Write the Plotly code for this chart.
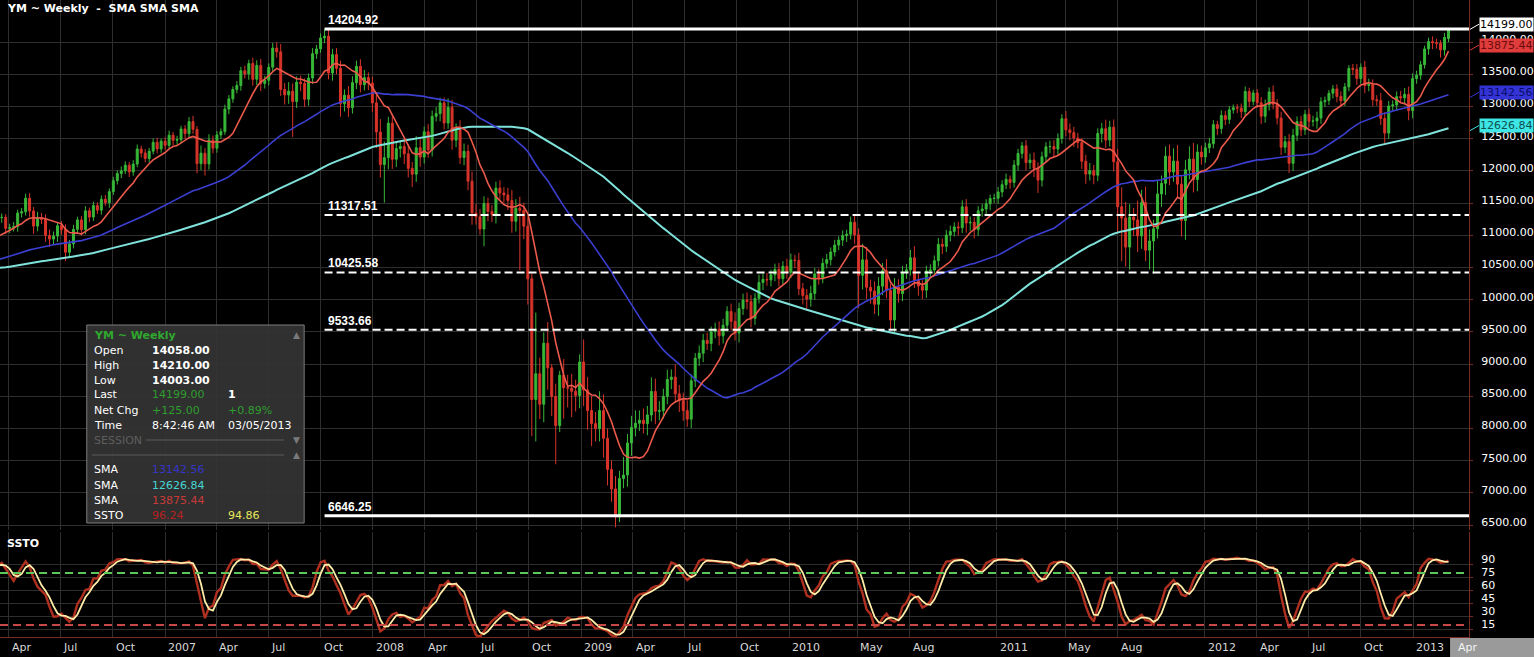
import numpy as np
import pandas as pd
import plotly.graph_objects as go

# ---------------- data (weekly, week-start Monday; last week = 2013-03-04) ----------------
CLOSE_2004 = [10117, 10019, 10140, 10188, 10242, 10410, 10416, 10371, 10282, 10213, 10140, 9962, 10140,
              9815, 9825, 10110, 10195, 10260, 10314, 10284, 10047, 10192, 10055, 9933, 9757, 10027,
              10315, 10540, 10456, 10522, 10592, 10544, 10705, 10827, 10783]
CLOSE_2005 = [10597, 10603, 10392, 10427, 10716, 10796, 10785, 10841, 10940, 10774, 10630, 10405,
              10461, 10462, 10087, 10157, 10192, 10345, 10281, 10471, 10542, 10460, 10512, 10623, 10297,
              10303, 10449, 10641, 10651, 10641, 10558, 10600, 10559, 10397, 10447, 10678, 10641, 10419, 10569,
              10292, 10287, 10215, 10402, 10530, 10686, 10766, 10931, 10877, 10778, 10875, 10883, 10718]
CLOSE_2006 = [10959, 10960, 10667, 10907, 10794, 10919, 11115, 11061, 11022, 11076, 11276, 11280, 11109,
              11120, 11137, 11347, 11367, 11577, 11380, 11144, 11278, 11247, 11000, 10942, 10989, 11150,
              11090, 10739, 10868, 11094, 11240, 11088, 11381, 11284, 11464, 11392, 11560, 11508, 11679,
              11850, 11960, 12002, 12091, 11986, 12108, 12342, 12280, 12194, 12308, 12445, 12343, 12463]
CLOSE_2007 = [12398, 12556, 12477, 12487, 12653, 12580, 12767, 12647, 12114, 12276, 12110, 12481, 12354,
              12560, 12612, 12961, 13120, 13265, 13327, 13556, 13507, 13668, 13424, 13639, 13360, 13409,
              13611, 13908, 13851, 13266, 13182, 13240, 13079, 13379, 13358, 13114, 13443, 13821, 13896,
              14066, 14093, 13523, 13807, 13595, 13043, 13177, 12981, 13372, 13625, 13340, 13450, 13366, 13057]
CLOSE_2008 = [12606, 12099, 12207, 12743, 12182, 12348, 12381, 12266, 12040, 11951, 12361, 12216, 12609,
              12325, 12849, 12891, 13058, 12745, 12986, 12479, 12638, 12209, 12307, 11842, 11346,
              11288, 11100, 11496, 11370, 11326, 11734, 11659, 11628, 11543, 11220, 11421, 11388, 11143, 10325,
              8451, 8852, 8378, 9325, 8943, 8497, 8046, 8829, 8635, 8629, 8579, 8515, 9034]
CLOSE_2009 = [8599, 8281, 8077, 8000, 8280, 7850, 7366, 7063, 6627, 7224, 7278, 7776, 8018,
              8083, 8131, 8076, 8212, 8575, 8268, 8277, 8500, 8763, 8799, 8539, 8438, 8280,
              8146, 8743, 9093, 9171, 9370, 9321, 9505, 9544, 9441, 9605, 9820, 9665, 9487,
              9864, 9995, 9972, 9712, 10023, 10270, 10318, 10309, 10388, 10471, 10328, 10520, 10428]
CLOSE_2010 = [10618, 10609, 10172, 10067, 10012, 10099, 10402, 10325, 10566, 10624, 10742, 10850, 10927,
              10997, 11018, 11204, 11009, 10380, 10620, 10193, 10137, 9931, 10211, 10450, 10144, 9686,
              10198, 10097, 10425, 10466, 10653, 10303, 10213, 10150, 10448, 10462, 10607, 10860, 10830,
              11006, 11062, 11132, 11118, 11444, 11192, 11203, 11092, 11382, 11410, 11491, 11573, 11577]
CLOSE_2011 = [11674, 11787, 11871, 11823, 12092, 12273, 12391, 12130, 12169, 12044, 11858, 12220, 12376,
              12380, 12341, 12505, 12811, 12638, 12596, 12512, 12441, 12151, 11952, 12004, 11934, 12582,
              12657, 12480, 12681, 12143, 11445, 11269, 10818, 11285, 11240, 10992, 11509, 10771, 10913,
              11103, 11644, 11809, 12231, 11983, 12153, 11796, 11231, 12019, 12184, 11867, 12294, 12218]
CLOSE_2012 = [12360, 12422, 12720, 12660, 12862, 12801, 12950, 12983, 12978, 12922, 13233, 13081, 13212,
              13060, 12850, 13029, 13228, 13038, 12821, 12369, 12455, 12119, 12554, 12767, 12640, 12880,
              12772, 12777, 12822, 13075, 13096, 13207, 13275, 13157, 13090, 13306, 13593, 13579, 13437,
              13610, 13328, 13343, 13107, 13093, 12815, 12588, 13010, 13026, 13155, 13135, 13190, 12938, 13435]
CLOSE_2013 = [13488, 13650, 13896, 14009, 13993, 13981, 13881, 14074, 14199]

# upper / lower wick lengths in tens of points, same order as closes
HI_2004 = [6, 5, 8, 4, 7, 5, 6, 4, 5, 8, 6, 4, 7, 9, 6, 5, 4, 6, 5, 7, 8, 5, 7, 6, 9, 6, 5, 8, 4, 6, 5, 6, 7, 4, 6]
LO_2004 = [7, 6, 5, 8, 4, 6, 5, 7, 6, 5, 9, 8, 5, 10, 7, 6, 5, 5, 6, 8, 7, 6, 8, 9, 7, 5, 4, 6, 7, 5, 6, 5, 4, 7, 5]
HI_2005 = [6, 7, 5, 8, 6, 5, 7, 4, 8, 6, 7, 9, 6, 7, 8, 9, 6, 5, 6, 7, 5, 6, 8, 5, 7, 5, 6, 4, 6, 5,
           6, 5, 7, 6, 5, 6, 7, 5, 6, 7, 8, 6, 5, 4, 5, 6, 5, 6, 5, 7, 4, 6]
LO_2005 = [8, 6, 9, 5, 5, 7, 6, 5, 6, 8, 9, 10, 9, 11, 12, 8, 7, 6, 5, 8, 6, 7, 6, 9, 5, 6, 5, 7, 5, 6,
           5, 7, 6, 8, 6, 5, 8, 7, 5, 9, 10, 11, 6, 5, 6, 4, 5, 5, 7, 6, 5, 6]
HI_2006 = [5, 6, 7, 5, 6, 5, 7, 6, 5, 6, 7, 6, 5, 6, 7, 5, 6, 7, 8, 6, 9, 7, 8, 9, 7, 6, 7, 8, 6, 7, 5,
           6, 7, 5, 6, 5, 6, 7, 5, 6, 5, 7, 6, 5, 6, 7, 5, 6, 5, 6, 7, 4]
LO_2006 = [6, 7, 9, 6, 7, 6, 5, 8, 6, 7, 5, 8, 9, 7, 6, 8, 7, 6, 9, 12, 8, 7, 10, 12, 8, 9, 8, 14, 9, 7, 6,
           9, 7, 8, 6, 6, 7, 5, 8, 5, 6, 7, 5, 8, 6, 5, 7, 6, 6, 5, 7, 6]
HI_2007 = [6, 7, 5, 6, 5, 6, 7, 9, 5, 12, 8, 9, 7, 6, 5, 7, 6, 5, 7, 6, 8, 6, 9, 8, 10, 7, 6, 8, 9, 12, 10,
           14, 12, 9, 10, 8, 7, 9, 6, 7, 11, 12, 9, 10, 12, 9, 14, 10, 9, 11, 12, 8, 10]
LO_2007 = [7, 6, 8, 7, 6, 8, 6, 7, 15, 10, 18, 9, 8, 7, 6, 5, 8, 6, 6, 8, 7, 9, 10, 9, 12, 8, 8, 7, 9, 10, 15,
           14, 55, 10, 12, 12, 10, 9, 8, 6, 8, 10, 12, 9, 20, 12, 14, 9, 10, 12, 9, 11, 14]
HI_2008 = [14, 20, 25, 10, 12, 11, 9, 12, 15, 10, 18, 14, 8, 12, 9, 10, 8, 8, 14, 12, 10, 15, 12, 10, 15,
           14, 12, 11, 9, 10, 10, 12, 9, 11, 16, 14, 18, 12, 14, 8, 95, 25, 17, 33, 6, 20, 7, 25, 20, 22, 18, 12]
LO_2008 = [25, 20, 59, 18, 15, 12, 14, 16, 14, 20, 12, 15, 10, 12, 10, 8, 12, 10, 9, 15, 11, 10, 12, 14, 18,
           12, 9, 27, 15, 12, 14, 10, 12, 15, 18, 16, 93, 20, 40, 57, 65, 23, 28, 34, 30, 60, 10, 48, 30, 40, 25, 20]
HI_2009 = [35, 20, 22, 18, 30, 25, 15, 14, 20, 12, 28, 14, 18, 20, 15, 18, 14, 22, 20, 15, 12, 15, 12, 20, 14, 12,
           16, 10, 8, 12, 10, 12, 8, 10, 12, 10, 8, 12, 14, 9, 10, 12, 10, 8, 12, 9, 10, 8, 9, 10, 8, 12]
LO_2009 = [25, 30, 35, 20, 20, 30, 25, 20, 16, 8, 15, 18, 20, 14, 12, 15, 18, 10, 20, 14, 12, 12, 15, 14, 18, 16,
           12, 14, 10, 12, 14, 10, 12, 10, 15, 12, 10, 14, 12, 15, 10, 12, 14, 10, 8, 12, 9, 10, 10, 12, 9, 10]
HI_2010 = [10, 8, 12, 9, 10, 12, 9, 8, 8, 9, 7, 8, 6, 8, 7, 9, 12, 10, 25, 20, 12, 15, 14, 12, 18, 10,
           14, 12, 10, 9, 12, 18, 10, 9, 8, 9, 8, 10, 9, 8, 9, 7, 8, 10, 12, 9, 8, 7, 8, 7, 6, 7]
LO_2010 = [9, 12, 10, 14, 18, 12, 10, 9, 7, 8, 9, 7, 8, 9, 10, 8, 14, 51, 22, 18, 20, 15, 18, 14, 12, 14,
           20, 14, 12, 10, 9, 12, 15, 14, 12, 10, 8, 9, 12, 9, 10, 8, 12, 8, 15, 12, 14, 10, 9, 8, 10, 7]
HI_2011 = [8, 7, 9, 6, 8, 7, 6, 9, 10, 12, 9, 8, 7, 9, 10, 8, 7, 12, 10, 9, 8, 7, 10, 12, 9, 8,
           9, 14, 10, 12, 20, 30, 25, 20, 14, 30, 20, 25, 18, 14, 20, 12, 15, 18, 20, 25, 12, 15, 20, 25, 12, 10]
LO_2011 = [9, 8, 7, 10, 8, 9, 8, 12, 10, 14, 20, 10, 8, 10, 12, 9, 8, 10, 12, 14, 9, 12, 15, 10, 14, 9,
           14, 12, 10, 15, 40, 67, 30, 35, 25, 25, 20, 17, 30, 51, 15, 20, 18, 20, 15, 20, 25, 30, 15, 20, 18, 12]
HI_2012 = [8, 9, 7, 6, 8, 7, 6, 5, 6, 7, 8, 6, 5, 6, 9, 8, 7, 10, 8, 10, 9, 12, 10, 8, 9, 7,
           9, 8, 10, 7, 6, 5, 6, 7, 8, 6, 5, 7, 8, 6, 10, 9, 8, 7, 12, 10, 8, 7, 8, 9, 10, 12, 8]
LO_2012 = [9, 8, 7, 10, 8, 9, 7, 6, 8, 10, 7, 9, 6, 8, 12, 10, 9, 8, 10, 12, 9, 15, 12, 9, 10, 8,
           10, 8, 12, 9, 8, 7, 8, 9, 10, 8, 7, 9, 10, 8, 12, 9, 10, 8, 10, 18, 9, 8, 9, 8, 10, 15, 12]
HI_2013 = [7, 6, 5, 6, 8, 6, 5, 7, 1]
LO_2013 = [8, 7, 6, 9, 10, 8, 12, 9, 7]

# last bar as shown in the info box
LAST_BAR = {"open": 14058.00, "high": 14210.00, "low": 14003.00, "close": 14199.00}
INFO_SMA = [13142.56, 12626.84, 13875.44]      # blue, cyan, red
INFO_SSTO = [96.24, 94.86]
FIB_LEVELS = [14204.92, 11317.51, 10425.58, 9533.66, 6646.25]
FIB_START = "2007-10-08"
PRICE_TICKS = list(range(6500, 14001, 500))
SSTO_TICKS = [15, 30, 45, 60, 75, 90]
SSTO_BANDS = [80, 20]
X_TICKS = ["2006-04-01", "2006-07-01", "2006-10-01", "2007-01-01", "2007-04-01", "2007-07-01", "2007-10-01",
           "2008-01-01", "2008-04-01", "2008-07-01", "2008-10-01", "2009-01-01", "2009-04-01", "2009-07-01",
           "2009-10-01", "2010-01-01", "2010-05-01", "2010-08-01", "2011-01-01", "2011-05-01", "2011-08-01",
           "2012-01-01", "2012-04-01", "2012-07-01", "2012-10-01", "2013-01-01"]
X_LABELS = ["Apr", "Jul", "Oct", "2007", "Apr", "Jul", "Oct", "2008", "Apr", "Jul", "Oct", "2009", "Apr", "Jul",
            "Oct", "2010", "May", "Aug", "2011", "May", "Aug", "2012", "Apr", "Jul", "Oct", "2013"]

# ---------------- build series ----------------
CLOSES = CLOSE_2004 + CLOSE_2005 + CLOSE_2006 + CLOSE_2007 + CLOSE_2008 + CLOSE_2009 + CLOSE_2010 + CLOSE_2011 + CLOSE_2012 + CLOSE_2013
HI_EXT = HI_2004 + HI_2005 + HI_2006 + HI_2007 + HI_2008 + HI_2009 + HI_2010 + HI_2011 + HI_2012 + HI_2013
LO_EXT = LO_2004 + LO_2005 + LO_2006 + LO_2007 + LO_2008 + LO_2009 + LO_2010 + LO_2011 + LO_2012 + LO_2013
n = min(len(CLOSES), len(HI_EXT), len(LO_EXT))
close = np.array(CLOSES[-n:], float)
hi_e = np.array(HI_EXT[-n:], float) * 10
lo_e = np.array(LO_EXT[-n:], float) * 10
dates = pd.date_range(end="2013-03-04", periods=n, freq="W-MON")
opn = np.r_[close[0], close[:-1]]
high = np.maximum(opn, close) + hi_e
low = np.minimum(opn, close) - lo_e
opn[-1], high[-1], low[-1], close[-1] = LAST_BAR["open"], LAST_BAR["high"], LAST_BAR["low"], LAST_BAR["close"]

cs = pd.Series(close)
sma_fast = cs.rolling(10).mean()
sma_mid = cs.rolling(50, min_periods=45).mean()
sma_slow = cs.rolling(100, min_periods=90).mean()
SSTO_LEN, SSTO_K, SSTO_D = 20, 3, 3
hh = pd.Series(high).rolling(SSTO_LEN).max()
ll = pd.Series(low).rolling(SSTO_LEN).min()
fastk = 100 * (cs - ll) / (hh - ll)
slowk = fastk.rolling(SSTO_K).mean()
slowd = slowk.rolling(SSTO_D).mean()

# ---------------- style ----------------
GREEN = "#38b838"
RED = "#d8342a"
GRID = "#2e2e2e"
AXIS = "#7a2a1e"
FONT = "DejaVu Sans"
FONT2 = "Liberation Sans"
PW, PH = 1473, 637
X0, X1 = "2006-03-17", "2013-04-09"
Y_MAIN = [6425.4, 14655.2]
Y_SSTO = [6.16, 127.3]


def px(x):
    return x / PW


def py(y):
    return 1 - y / PH


fig = go.Figure()
fig.add_trace(go.Candlestick(
    x=dates, open=opn, high=high, low=low, close=close,
    increasing=dict(line=dict(color=GREEN, width=1), fillcolor=GREEN),
    decreasing=dict(line=dict(color=RED, width=1), fillcolor=RED),
    whiskerwidth=0, xaxis="x", yaxis="y", hoverinfo="skip"))
fig.add_trace(go.Scatter(x=dates, y=sma_slow, mode="lines", line=dict(color="#7fe3dc", width=2), xaxis="x", yaxis="y"))
fig.add_trace(go.Scatter(x=dates, y=sma_mid, mode="lines", line=dict(color="#3b3fd2", width=1.6), xaxis="x", yaxis="y"))
fig.add_trace(go.Scatter(x=dates, y=sma_fast, mode="lines", line=dict(color="#ec5a4c", width=1.6), xaxis="x", yaxis="y"))
fig.add_trace(go.Scatter(x=dates, y=slowk, mode="lines", line=dict(color="#b03020", width=2.4), xaxis="x2", yaxis="y2"))
fig.add_trace(go.Scatter(x=dates, y=slowd, mode="lines", line=dict(color="#ffeca8", width=1.8), xaxis="x2", yaxis="y2"))

shapes = []
annos = []
# fibonacci lines
for i, lv in enumerate(FIB_LEVELS):
    solid = i in (0, len(FIB_LEVELS) - 1)
    shapes.append(dict(type="line", xref="x", yref="y", x0=FIB_START, x1=X1, y0=lv, y1=lv,
                       line=dict(color="white", width=3 if solid else 2, dash="solid" if solid else "8px,4px")))
    annos.append(dict(xref="x", yref="y", x=FIB_START, y=lv, xanchor="left", yanchor="bottom", xshift=1, yshift=0,
                      text=f"<b>{lv:.2f}</b>", showarrow=False, font=dict(family=FONT2, size=12, color="white")))
# ssto bands
shapes.append(dict(type="line", xref="x2", yref="y2", x0=X0, x1=X1, y0=SSTO_BANDS[0], y1=SSTO_BANDS[0],
                   line=dict(color="#5cc85c", width=2, dash="8px,5px")))
shapes.append(dict(type="line", xref="x2", yref="y2", x0=X0, x1=X1, y0=SSTO_BANDS[1], y1=SSTO_BANDS[1],
                   line=dict(color="#c84848", width=2, dash="8px,5px")))

# right-axis value boxes
boxes = [(LAST_BAR["close"], "#ffffff", "#000000"),
         (INFO_SMA[2], "#e03c3c", "#6a0c0c"),
         (INFO_SMA[0], "#3434d6", "#0c0c6a"),
         (INFO_SMA[1], "#3fe6e6", "#0c5050")]
for v, bg, fg in boxes:
    annos.append(dict(xref="paper", yref="y", x=px(1483), y=v, xanchor="left", yanchor="middle", yshift=5,
                      text=f"{v:.2f}", showarrow=False, bgcolor=bg, borderpad=0,
                      font=dict(family=FONT, size=11, color=fg)))
    shapes.append(dict(type="line", xref="paper", yref="y", x0=px(1474), x1=px(1483), y0=v, y1=v + 80,
                       line=dict(color=bg, width=1)))

# x labels
for d, t in zip(X_TICKS, X_LABELS):
    annos.append(dict(xref="x2", yref="paper", x=d, y=py(647), xanchor="left", yanchor="middle", xshift=1,
                      text=t, showarrow=False, font=dict(family=FONT, size=11, color="#d8d8d8")))
shapes.append(dict(type="rect", xref="paper", yref="paper", x0=px(1454), x1=px(1540), y0=py(638), y1=py(660),
                   fillcolor="#9a9a9a", line=dict(width=0)))
annos.append(dict(xref="paper", yref="paper", x=px(1460), y=py(647), xanchor="left", yanchor="middle",
                  text="Apr", showarrow=False, font=dict(family=FONT, size=11, color="#f4f4f4")))

# titles
annos.append(dict(xref="paper", yref="paper", x=px(5), y=py(9), xanchor="left", yanchor="middle",
                  text="<b>YM ~ Weekly  -  SMA SMA SMA</b>", showarrow=False,
                  font=dict(family=FONT, size=11, color="white")))
annos.append(dict(xref="paper", yref="paper", x=px(5), y=py(543), xanchor="left", yanchor="middle",
                  text="<b>SSTO</b>", showarrow=False, font=dict(family=FONT, size=11, color="white")))

# info box
shapes.append(dict(type="rect", xref="paper", yref="paper", x0=px(87), x1=px(305), y0=py(325), y1=py(523),
                   fillcolor="rgba(52,52,52,0.92)", line=dict(color="#7c7c7c", width=1), layer="above"))
shapes.append(dict(type="line", xref="paper", yref="paper", x0=px(146), x1=px(285), y0=py(440), y1=py(440),
                   line=dict(color="#5a5a5a", width=1), layer="above"))
shapes.append(dict(type="line", xref="paper", yref="paper", x0=px(92), x1=px(285), y0=py(455), y1=py(455),
                   line=dict(color="#5a5a5a", width=1), layer="above"))


def cell(x, y, text, color="white", bold=False, size=11):
    annos.append(dict(xref="paper", yref="paper", x=px(x), y=py(y), xanchor="left", yanchor="middle",
                      text=f"<b>{text}</b>" if bold else text, showarrow=False,
                      font=dict(family=FONT, size=size, color=color)))


cell(92, 335, "YM ~ Weekly", "#2fa82f", True)
rows = [("Open", f"{LAST_BAR['open']:.2f}", "white", True, "", "white"),
        ("High", f"{LAST_BAR['high']:.2f}", "white", True, "", "white"),
        ("Low", f"{LAST_BAR['low']:.2f}", "white", True, "", "white"),
        ("Last", f"{LAST_BAR['close']:.2f}", "#2e9e2e", False, "<b>1</b>", "white"),
        ("Net Chg", "+125.00", "#2e9e2e", False, "+0.89%", "#2e9e2e"),
        ("Time", "8:42:46 AM", "white", False, "03/05/2013", "white")]
for i, (lab, val, vc, vb, third, tc) in enumerate(rows):
    y = 350 + 15 * i
    cell(92, y, lab)
    cell(150, y, val, vc, vb)
    if third:
        cell(227, y, third, tc)
cell(92, 440, "SESSION", "#5e5e5e")
sma_cols = ["#3535c8", "#44d6d6", "#c83a3a"]
for i, (v, c) in enumerate(zip(INFO_SMA, sma_cols)):
    cell(92, 470 + 15 * i, "SMA")
    cell(150, 470 + 15 * i, f"{v:.2f}", c)
cell(92, 515, "SSTO")
cell(150, 515, f"{INFO_SSTO[0]:.2f}", "#b82020")
cell(227, 515, f"{INFO_SSTO[1]:.2f}", "#e8e85a")
for y, g in [(335, "▲"), (440, "▼"), (455, "▲")]:
    annos.append(dict(xref="paper", yref="paper", x=px(297), y=py(y), xanchor="center", yanchor="middle",
                      text=g, showarrow=False, font=dict(family=FONT, size=9, color="#7a7a7a")))

axis_font = dict(family=FONT, size=11, color="white")
fig.update_layout(
    width=1534, height=657, paper_bgcolor="black", plot_bgcolor="black",
    margin=dict(l=0, r=61, t=0, b=20), showlegend=False,
    xaxis=dict(domain=[0, 1], anchor="y", type="date", range=[X0, X1], tickvals=X_TICKS, showticklabels=False,
               showgrid=True, gridcolor=GRID, gridwidth=1, zeroline=False, showline=False,
               rangeslider=dict(visible=False), ticks=""),
    xaxis2=dict(domain=[0, 1], anchor="y2", type="date", range=[X0, X1], matches="x", tickvals=X_TICKS,
                showticklabels=False, showgrid=True, gridcolor=GRID, zeroline=False,
                showline=True, linecolor=AXIS, linewidth=1, ticks=""),
    yaxis=dict(domain=[0.168, 1], anchor="x", side="right", range=Y_MAIN, tickvals=PRICE_TICKS,
               tickformat=".2f", tickfont=axis_font, showgrid=True, gridcolor=GRID, zeroline=False,
               showline=True, linecolor=AXIS, linewidth=1, ticks="outside", ticklen=3, tickcolor=AXIS,
               ticklabelstandoff=6, ticklabelshift=-3),
    yaxis2=dict(domain=[0, 0.165], anchor="x2", side="right", range=Y_SSTO, tickvals=SSTO_TICKS,
                tickfont=axis_font, showgrid=True, gridcolor=GRID, zeroline=False,
                showline=True, linecolor=AXIS, linewidth=1, ticks="outside", ticklen=3, tickcolor=AXIS,
                ticklabelstandoff=6, ticklabelshift=-5),
    shapes=shapes, annotations=annos,
)
fig.write_html("out.html", config={"displayModeBar": False},
               post_script="document.body.style.margin='0';document.body.style.overflow='hidden';")
